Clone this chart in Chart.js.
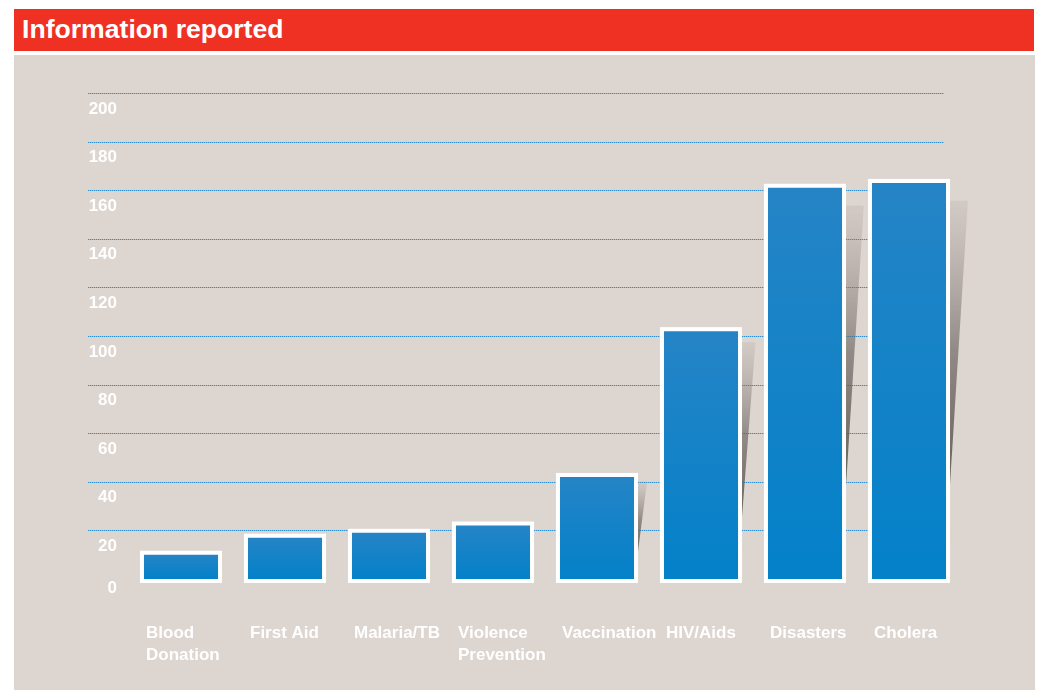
<!DOCTYPE html>
<html>
<head>
<meta charset="utf-8">
<title>Information reported</title>
<script src="https://cdn.jsdelivr.net/npm/chart.js@4/dist/chart.umd.min.js"></script>
<style>
  body { margin: 0; background: #fff; width: 1040px; height: 690px; overflow: hidden; font-family: "Liberation Sans", Arial, Helvetica, sans-serif; }
  #title { position: absolute; left: 14px; top: 9px; width: 1020px; height: 42px; background: #ef3124; color: #fff;
           font-weight: bold; font-size: 26.6px; line-height: 41px; padding-left: 8px; box-sizing: border-box; }
  #panel { position: absolute; left: 14px; top: 55px; width: 1021px; height: 635px; background: #ddd5d0; }
  canvas { display: block; }
</style>
</head>
<body>
<div id="title">Information reported</div>
<div id="panel"><canvas id="infoChart" width="1021" height="635"></canvas></div>

<script>
// topics and number of reports
const topics = [['Blood', 'Donation'], 'First Aid', 'Malaria/TB', ['Violence', 'Prevention'],
                'Vaccination', 'HIV/Aids', 'Disasters', 'Cholera'];
const reports = [10, 17, 19, 22, 42, 102, 161, 163];
const yTicks = [0, 20, 40, 60, 80, 100, 120, 140, 160, 180, 200];

const FONT = '"Liberation Sans", Arial, Helvetica, sans-serif';

// vertical blue gradient for each bar
function barFill(c) {
  const chart = c.chart;
  const y = chart.scales.y;
  if (!y || c.raw === undefined) return '#1583c7';
  const top = y.getPixelForValue(c.raw);
  const base = y.getPixelForValue(0);
  if (!isFinite(top) || !isFinite(base) || top === base) return '#1583c7';
  const g = chart.ctx.createLinearGradient(0, top, 0, base);
  g.addColorStop(0, '#2584c6');
  g.addColorStop(1, '#0381c9');
  return g;
}

// dotted grid, value labels, bar shadows and white frames
const decor = {
  id: 'decor',
  beforeDatasetsDraw(chart) {
    const ctx = chart.ctx;
    const y = chart.scales.y;
    ctx.save();

    // grid lines: one-pixel dots every other pixel
    yTicks.forEach(v => {
      if (v === 0) return;
      const py = Math.round(y.getPixelForValue(v));
      ctx.fillStyle = 'rgba(120,170,205,0.6)';
      ctx.fillRect(74, py, 856, 1);
      ctx.fillStyle = '#2a90d4';
      for (let x = 74; x < 930; x += 2) ctx.fillRect(x, py, 1, 1);
    });

    // value labels sit just under their grid line
    ctx.fillStyle = '#fff';
    ctx.font = 'bold 17px ' + FONT;
    ctx.textAlign = 'right';
    ctx.textBaseline = 'middle';
    yTicks.forEach(v => {
      const py = y.getPixelForValue(v) + (v === 0 ? 9 : 16);
      ctx.fillText(String(v), 103, py);
    });

    const meta = chart.getDatasetMeta(0);
    meta.data.forEach((bar, i) => {
      const p = bar.getProps(['x', 'y', 'base', 'width'], true);
      const h = p.base - p.y;
      const right = p.x + p.width / 2 + 4;

      // slanted shadow behind the taller bars
      if (reports[i] >= 30) {
        const w = 6 + h * 0.03;
        const top = p.y + h * 0.045;
        const tip = p.y + h * 0.8;
        const g = ctx.createLinearGradient(0, top, 0, tip);
        g.addColorStop(0, 'rgba(150,140,136,0.15)');
        g.addColorStop(0.5, 'rgba(105,97,94,0.65)');
        g.addColorStop(1, 'rgba(80,74,72,0.9)');
        ctx.fillStyle = g;
        ctx.beginPath();
        ctx.moveTo(right - 1, top);
        ctx.lineTo(right + w, top);
        ctx.lineTo(right - 1, tip);
        ctx.closePath();
        ctx.fill();
      }

      // white frame around the bar
      ctx.fillStyle = '#fff';
      ctx.fillRect(p.x - p.width / 2 - 4, p.y - 4, p.width + 8, h + 8);
    });

    ctx.restore();
  }
};

new Chart(document.getElementById('infoChart'), {
  type: 'bar',
  data: {
    labels: topics,
    datasets: [{
      data: reports,
      backgroundColor: barFill,
      borderWidth: 0,
      barPercentage: 0.712,
      categoryPercentage: 1
    }]
  },
  options: {
    responsive: false,
    animation: false,
    devicePixelRatio: 1,
    layout: { padding: { left: 115, right: 74, top: 38, bottom: 0 } },
    plugins: { legend: { display: false }, tooltip: { enabled: false } },
    scales: {
      x: {
        grid: { display: false, drawTicks: false },
        border: { display: false },
        ticks: {
          color: '#fff',
          font: { family: FONT, size: 17, weight: 'bold', lineHeight: 1.25 },
          align: 'start',
          labelOffset: -35,
          padding: 44,
          maxRotation: 0,
          autoSkip: false
        },
        afterFit(scale) { scale.height = 111; }
      },
      y: {
        display: false,
        min: 0,
        max: 200,
        ticks: { stepSize: 20 }
      }
    }
  },
  plugins: [decor]
});
</script>
</body>
</html>
